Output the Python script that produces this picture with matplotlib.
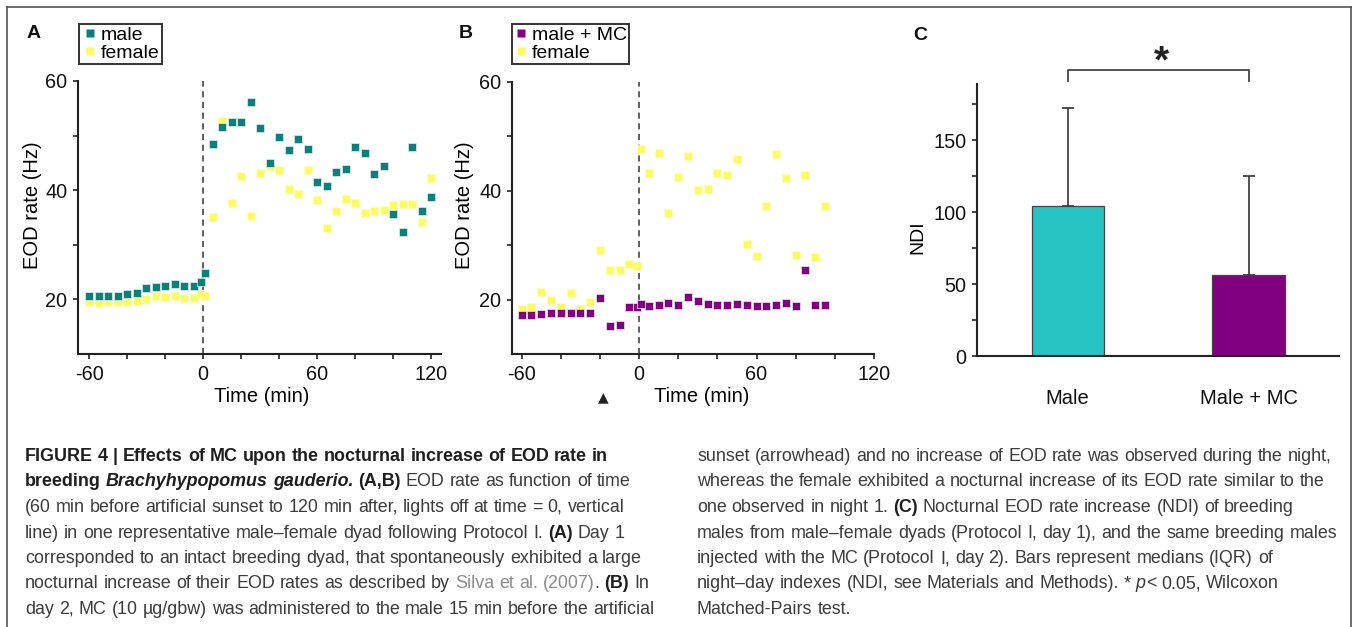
import matplotlib
matplotlib.use('Agg')
import matplotlib.pyplot as plt
from matplotlib import font_manager
from matplotlib.lines import Line2D

W, H = 1354, 627

# ---- panel A: day 1, intact dyad ----
time_a = [-60, -55, -50, -45, -40, -35, -30, -25, -20, -15, -10, -5, -1, 1,
          5, 10, 15, 20, 25, 30, 35, 40, 45, 50, 55, 60, 65, 70, 75, 80, 85,
          90, 95, 100, 105, 110, 115, 120]
male_a = [20.55, 20.55, 20.7, 20.7, 21.0, 21.2, 22.1, 22.3, 22.5, 22.8, 22.4,
          22.4, 23.1, 24.8,
          48.4, 51.6, 52.4, 52.5, 56.1, 51.4, 45.0, 49.8, 47.3, 49.3, 47.5,
          41.5, 40.7, 43.3, 43.9, 48.0, 46.8, 43.0, 44.4, 35.7, 32.4, 48.0,
          36.2, 38.7]
female_a = [19.45, 19.4, 19.6, 19.6, 19.45, 19.75, 20.1, 20.55, 20.4, 20.55,
            20.3, 20.2, 20.9, 20.55,
            35.0, 52.7, 37.6, 42.6, 35.2, 43.2, 44.4, 43.7, 40.2, 39.3, 43.7,
            38.2, 33.1, 36.1, 38.3, 37.6, 35.8, 36.1, 36.3, 37.2, 37.4, 37.4,
            34.2, 42.2]

# ---- panel B: day 2, male injected with MC ----
time_b = [-60, -55, -50, -45, -40, -35, -30, -25, -20, -15, -10, -5, -1, 1,
          5, 10, 15, 20, 25, 30, 35, 40, 45, 50, 55, 60, 65, 70, 75, 80, 85,
          90, 95]
male_b = [17.2, 17.25, 17.4, 17.55, 17.55, 17.6, 17.55, 17.6, 20.4, 15.2, 15.4,
          18.7, 18.6, 19.2, 18.8, 19.1, 19.4, 19.1, 20.5, 19.7, 19.3, 19.1,
          19.1, 19.3, 19.0, 18.8, 18.9, 19.1, 19.4, 18.9, 25.5, 19.1, 19.1]
female_b = [18.35, 18.7, 21.4, 19.9, 18.7, 21.2, 18.35, 19.6, 29.1, 25.5, 25.5,
            26.6, 26.2, 47.7, 43.3, 46.9, 35.9, 42.5, 46.3, 40.1, 40.3, 43.3,
            42.9, 45.85, 30.2, 28.0, 37.15, 46.7, 42.4, 28.3, 42.9, 27.8, 37.2]

# ---- panel C: NDI medians and upper IQR ----
groups = ['Male', 'Male + MC']
ndi_median = [104, 56]
ndi_upper = [172, 125]

TEAL = '#0a807d'
YELLOW = '#fbfb63'
PURPLE = '#800080'
BAR_TEAL = '#26c4c2'
INK = '#222222'

names = {f.name for f in font_manager.fontManager.ttflist}
plt.rcParams['font.family'] = ['Liberation Sans', 'DejaVu Sans']
cap_family = ['Liberation Sans Narrow', 'Liberation Sans'] if 'Liberation Sans Narrow' in names else ['Liberation Sans']

fig = plt.figure(figsize=(W / 100, H / 100), dpi=100)
fig.patch.set_facecolor('white')


def px_axes(l, t, r, b):
    return fig.add_axes([l / W, 1 - b / H, (r - l) / W, (b - t) / H])


def style_axes(ax):
    for s in ['top', 'right']:
        ax.spines[s].set_visible(False)
    for s in ['left', 'bottom']:
        ax.spines[s].set_linewidth(1.5)
        ax.spines[s].set_color(INK)
    ax.tick_params(which='both', direction='out', length=3.6, width=1.2,
                   color=INK, labelsize=14.3, pad=4, labelcolor='#111111')
    ax.set_facecolor('none')


def eod_panel(ax, t, male, female, male_col, xlim):
    style_axes(ax)
    ax.set_xlim(*xlim)
    ax.set_ylim(10, 60)
    ax.axvline(0, color='#333333', lw=1.1, ls=(0, (4, 3)))
    ax.plot(t, female, 's', ms=5.6, mfc=YELLOW, mec='#ffffc0', mew=0.5,
            ls='none', clip_on=False, zorder=3)
    ax.plot(t, male, 's', ms=5.6, mfc=male_col, mec='#e0eeee', mew=0.5,
            ls='none', clip_on=False, zorder=4)
    ax.set_xticks([-60, 0, 60, 120])
    ax.set_xticklabels(['-60', '0', '60', '120'])
    ax.set_xticks([-40, -20, 20, 40, 80, 100], minor=True)
    ax.set_yticks([20, 40, 60])
    ax.set_yticks([30, 50], minor=True)
    handles = [Line2D([], [], marker='s', ls='none', ms=6, mfc=male_col, mec='none'),
               Line2D([], [], marker='s', ls='none', ms=6, mfc=YELLOW, mec='none')]
    return handles


def add_legend(ax, handles, labels, x, y, hl, tp):
    leg = ax.legend(handles, labels, loc='upper left',
                    bbox_to_anchor=(x / W, 1 - y / H), bbox_transform=fig.transFigure,
                    frameon=True, fancybox=False, edgecolor='#333333', framealpha=1,
                    borderpad=0.12, handlelength=hl, handletextpad=tp,
                    labelspacing=0.0, borderaxespad=0, fontsize=14)
    leg.get_frame().set_linewidth(1.4)
    return leg


# panel A
axA = px_axes(78, 81, 441, 354)
hA = eod_panel(axA, time_a, male_a, female_a, TEAL, (-65.8, 125))
axA.text(0.507, -0.1575, 'Time (min)', transform=axA.transAxes, ha='center',
         va='center', fontsize=14.5)
axA.text(-0.124, 0.546, 'EOD rate (Hz)', transform=axA.transAxes, ha='center',
         va='center', rotation=90, fontsize=14.5)
add_legend(axA, hA, ['male', 'female'], 79, 24, 0.9, 0.1)

# panel B
axB = px_axes(511.7, 81.7, 874, 354.3)
hB = eod_panel(axB, time_b, male_b, female_b, PURPLE, (-65.1, 120))
axB.text(0.524, -0.156, 'Time (min)', transform=axB.transAxes, ha='center',
         va='center', fontsize=14.5)
axB.text(-0.129, 0.547, 'EOD rate (Hz)', transform=axB.transAxes, ha='center',
         va='center', rotation=90, fontsize=14.5)
add_legend(axB, hB, ['male + MC', 'female'], 512, 24, 0.7, 0.2)
fig.text(603 / W, 1 - 397 / H, '\u25b2', ha='center', va='center', fontsize=10,
         color=INK, family='DejaVu Sans')

# panel C
axC = px_axes(977.3, 84, 1339, 356)
style_axes(axC)
xs = list(range(len(groups)))
axC.bar(xs, ndi_median, width=0.4, color=[BAR_TEAL, PURPLE], edgecolor='#444444',
        linewidth=0.9, zorder=2)
axC.errorbar(xs, ndi_median,
             yerr=[[0] * len(xs), [u - m for u, m in zip(ndi_upper, ndi_median)]],
             fmt='none', ecolor='#333333', elinewidth=1.2, capsize=4.5, capthick=1.2,
             zorder=1)
axC.set_xlim(-0.5, 1.5)
axC.set_ylim(0, 189)
axC.set_yticks([0, 50, 100, 150])
axC.set_yticks([25, 75, 125, 175], minor=True)
axC.set_xticks(xs)
axC.set_xticklabels(groups, fontsize=14.5)
axC.tick_params(axis='x', length=0, pad=24)
axC.text(-0.164, 0.4375, 'NDI', transform=axC.transAxes, ha='center',
         va='center', rotation=90, fontsize=14)
# significance bracket
axC.plot([0, 0, 1, 1], [191, 199, 199, 191], color='#444444', lw=1.3,
         clip_on=False)
axC.text(0.52, 204, '*', ha='center', va='center', fontsize=28,
         fontweight='bold', color=INK)

# panel letters
for lab, x, y in [('A', 34, 34), ('B', 466, 34), ('C', 920, 35)]:
    fig.text(x / W, 1 - y / H, lab, ha='center', va='center', fontsize=14,
             fontweight='bold', color='#111111')

# outer frame
for xs_, ys_ in [([7, 7], [627, 7]), ([7, 1351], [7, 7]), ([1351, 1351], [7, 627])]:
    fig.add_artist(Line2D([x / W for x in xs_], [1 - y / H for y in ys_],
                          color='#555555', lw=1.2, transform=fig.transFigure))

# ---- caption ----
renderer = fig.canvas.get_renderer()
STY = {
    'r': dict(family=cap_family, color='#3c3c3c'),
    'b': dict(family=cap_family, color='#1e1e1e', fontweight='bold'),
    'bi': dict(family=cap_family, color='#1e1e1e', fontweight='bold', fontstyle='italic'),
    'i': dict(family=cap_family, color='#3c3c3c', fontstyle='italic'),
    'g': dict(family=cap_family, color='#8c8c8c'),
}


def text_w(s, size, st):
    t = fig.text(0, 0, s, fontsize=size, **STY[st])
    w = t.get_window_extent(renderer).width
    t.remove()
    return w


ref_line = 'sunset (arrowhead) and no increase of EOD rate was observed during the night,'
cap_size = 10 * 637 / text_w(ref_line, 10, 'r')
space_w = text_w('n n', cap_size, 'r') - text_w('nn', cap_size, 'r')


def draw_line(x0, base, runs):
    x = x0
    for text, st in runs:
        parts = text.split(' ')
        for i, p in enumerate(parts):
            if i > 0:
                x += space_w
            if p:
                t = fig.text(x / W, 1 - base / H, p, fontsize=cap_size, va='baseline',
                             ha='left', **STY[st])
                x += t.get_window_extent(renderer).width


left_lines = [
    [('FIGURE 4 | Effects of MC upon the nocturnal increase of EOD rate in', 'b')],
    [('breeding ', 'b'), ('Brachyhypopomus gauderio.', 'bi'), (' (A,B)', 'b'),
     (' EOD rate as function of time', 'r')],
    [('(60 min before artificial sunset to 120 min after, lights off at time = 0, vertical', 'r')],
    [('line) in one representative male\u2013female dyad following Protocol I. ', 'r'),
     ('(A)', 'b'), (' Day 1', 'r')],
    [('corresponded to an intact breeding dyad, that spontaneously exhibited a large', 'r')],
    [('nocturnal increase of their EOD rates as described by ', 'r'),
     ('Silva et al. (2007)', 'g'), ('. ', 'r'), ('(B)', 'b'), (' In', 'r')],
    [('day 2, MC (10 \u00b5g/gbw) was administered to the male 15 min before the artificial', 'r')],
]
right_lines = [
    [('sunset (arrowhead) and no increase of EOD rate was observed during the night,', 'r')],
    [('whereas the female exhibited a nocturnal increase of its EOD rate similar to the', 'r')],
    [('one observed in night 1. ', 'r'), ('(C)', 'b'),
     (' Nocturnal EOD rate increase (NDI) of breeding', 'r')],
    [('males from male\u2013female dyads (Protocol I, day 1), and the same breeding males', 'r')],
    [('injected with the MC (Protocol I, day 2). Bars represent medians (IQR) of', 'r')],
    [('night\u2013day indexes (NDI, see Materials and Methods). * ', 'r'), ('p', 'i'),
     ('< 0.05, Wilcoxon', 'r')],
    [('Matched-Pairs test.', 'r')],
]

base0, step = 461, 25.5
for i, runs in enumerate(left_lines):
    draw_line(25, base0 + i * step, runs)
for i, runs in enumerate(right_lines):
    draw_line(697, base0 + i * step, runs)

fig.savefig('out.png', dpi=100, facecolor='white')
